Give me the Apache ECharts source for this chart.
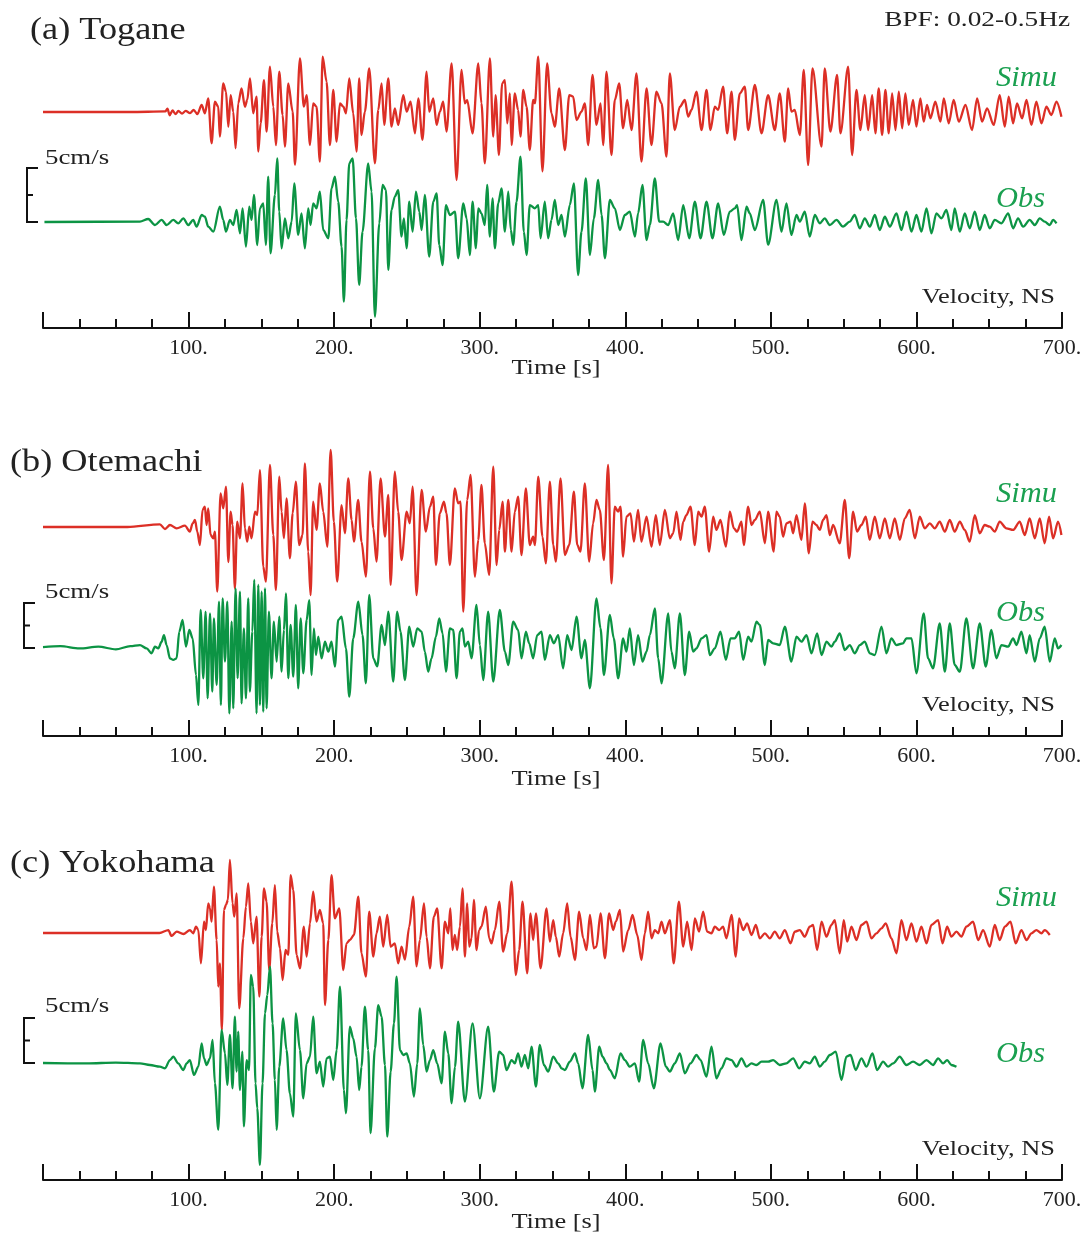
<!DOCTYPE html>
<html>
<head>
<meta charset="utf-8">
<script src="https://cdn.jsdelivr.net/npm/echarts@6/dist/echarts.min.js"></script>
<style>
html, body { margin: 0; padding: 0; background: #fff; }
#main { width: 1085px; height: 1234px; }
</style>
</head>
<body>
<div id="main"></div>
<script>
var toganeSimu = [[0,0],[60,0],[84,0.05],[85.5,0.3],[87,-0.3],[89,0.15],[91,-0.2],[93,0.1],[95.5,-0.15],[98,0.1],[101,-0.1],[103.5,0.2],[106,-0.2],[109,0.65],[111.2,-0.12],[113.5,1.27],[115.8,-2.9],[118.1,0.96],[120.4,0.49],[121.5,-2.28],[123.8,2.65],[125.7,1.88],[127.3,-1.36],[128.9,1.57],[130.7,0.03],[132.3,-3.36],[134.1,0.8],[136.4,2.19],[138.7,0.49],[140.3,1.11],[142.2,3.12],[144.4,-0.12],[146.7,1.42],[147.9,-3.67],[149.5,-1.05],[151.8,2.96],[153.6,-1.82],[155.9,4.2],[158.2,0.49],[160,-3.06],[162.3,3.73],[164.6,-0.28],[166.2,-3.21],[168.5,2.65],[171.5,0.03],[173.1,-4.88],[176.5,4.97],[179.2,0.49],[181.1,1.57],[183.4,-3.06],[185.6,0.8],[187.9,0.49],[190.2,-4.6],[192.1,5.12],[194.8,2.81],[197.1,-3.06],[199.4,2.04],[201.7,-2.75],[204,0.8],[206.3,0.49],[208.1,-0.12],[210.4,3.12],[213.1,-0.12],[215.4,-3.67],[217.2,3.12],[218.8,-2.13],[221.1,0.03],[224.1,4.04],[228,-4.75],[230.3,0.19],[232.6,2.65],[234.4,-1.2],[237.2,3.12],[239.4,-1.36],[241.7,0.34],[244,-1.2],[247.5,1.57],[249.8,0.03],[252.5,0.96],[255.5,-1.98],[257.8,1.27],[260.7,-2.59],[263.5,3.73],[265.3,0.03],[268.1,1.27],[270.4,-1.2],[272.6,0.03],[274.9,0.96],[277.2,-1.82],[280.7,4.5],[284.1,-6.3],[287.5,3.9],[289.8,0.8],[291.4,1.1],[295.1,-1.98],[299,4.5],[301.2,0.8],[303.5,-4.75],[307,4.97],[309.3,-2.28],[310.9,1.57],[313.2,-3.98],[315.4,2.65],[317.3,2.96],[318.9,-1.05],[320.7,1.73],[321.9,-3.06],[324.1,1.73],[326.4,0.19],[328,-2.28],[329.9,2.04],[332.2,0.49],[334.4,-3.52],[336.7,1.11],[337.9,0.8],[340.2,5.12],[343.1,-5.5],[346.3,4.5],[349.3,-0.12],[351.6,-1.36],[354.6,2.19],[358.5,-3.52],[361.5,1.57],[364.2,1.42],[366.5,-0.74],[369.9,0.03],[372.2,0.8],[374.5,-3.06],[377.5,3.43],[380.2,-1.2],[383,0.8],[384.8,-3.06],[387.1,3.73],[390.5,-3.98],[392.8,1.11],[395.8,2.65],[398.5,-1.51],[401.3,1.11],[404.3,-1.67],[407.7,3.58],[411.1,-4.6],[414.6,2.19],[418,-3.06],[421.4,1.88],[424.9,0.8],[428.3,-4.14],[430.6,3.58],[434,-1.67],[437.5,0.49],[440.9,1.11],[443.2,-0.43],[445.5,0.19],[448.9,1.88],[452.4,-1.67],[455.8,2.04],[458.5,-1.67],[461.5,0.49],[463.8,0.19],[467.2,2.35],[470,-1.98],[473,1.88],[475.2,-2.59],[478.7,1.73],[482.1,2.35],[484.4,-1.67],[489,2.5],[493.6,-1.98],[498.1,1.57],[502.7,-1.67],[506.1,1.73],[509.6,-2.75],[511.9,2.19],[514.1,0.03],[516.4,0.19],[519.9,-2.13],[522.6,3.89],[525.6,-4.9],[528.6,4.04],[534.8,-3.21],[537,4.04],[540.9,-1.82],[545.5,3.43],[547.8,-1.98],[553.1,4.2],[555.8,-3.98],[558.8,2.04],[561.5,-1.67],[564.5,1.57],[566.8,-1.67],[569.6,1.57],[571.8,-1.98],[574.1,2.19],[576.4,-2.13],[578.7,2.04],[581,-1.98],[583.3,1.73],[585.6,-1.67],[587.9,1.88],[590.2,-1.51],[592.4,1.73],[594.7,-1.2],[597.7,1.11],[600,-1.36],[602.7,1.27],[605,-0.9],[607.3,0.65],[609.6,-0.59],[613,0.96],[616.5,-0.9],[618.8,1.27],[622.2,-1.05],[625.6,1.11],[629.1,-0.9],[633.7,0.65],[638.2,-1.67],[641.7,1.27],[645.1,-0.9],[648.5,0.34],[653.1,-1.2],[657.2,1.57],[660.7,-1.36],[663.4,1.42],[666.4,-1.05],[669.1,0.8],[672.6,-0.59],[675.6,1.11],[679,-1.2],[682.4,0.96],[685.9,-1.05],[689.3,0.49],[692.7,-0.28],[696.2,0.96],[699.6,-0.43]];

var toganeObs = [[1,0],[66.6,0.03],[72.3,0.28],[76.9,-0.28],[81.5,0.19],[84.9,-0.28],[89.5,0.19],[92.9,-0.12],[96.4,0.34],[99.8,-0.28],[103.2,0.19],[105.5,-0.43],[109,0.65],[111.2,0.49],[113.5,-0.43],[117,-0.9],[121.5,1.42],[123.8,0.19],[125.7,-0.9],[128.4,0.19],[130.7,-0.28],[133,1.11],[135.3,-1.05],[137.1,1.27],[139.4,-2.28],[141.7,1.42],[143.3,0.19],[144.9,2.5],[147.2,-2.13],[149,1.27],[151.3,1.73],[153.1,-2.13],[154.7,4.2],[156.3,-2.9],[159.3,2.5],[160.9,5.9],[162.3,0.96],[163.9,-2.44],[166.2,0.34],[168.5,-1.51],[170.8,0.03],[172.6,3.58],[175.3,-1.2],[177.6,0.8],[179.9,-2.44],[182.2,1.27],[183.8,-0.28],[185.6,1.73],[187.9,1.27],[190.2,2.81],[192.5,-0.74],[196,-1.51],[198.2,3.12],[200.5,4.2],[202.8,1.88],[205.1,-2.28],[206.7,-7.38],[208.5,0.19],[210.4,5.43],[212.7,5.9],[215,0.34],[217.2,-5.83],[219.5,-0.9],[223.4,5.43],[225.7,2.81],[228,-8.77],[231,-0.12],[233.3,3.43],[235.6,2.96],[237.2,-4.44],[239.4,1.11],[241.7,2.35],[244,2.96],[246.3,-1.36],[247.9,0.34],[249.8,-2.44],[251.6,1.88],[253.9,-0.9],[256.2,2.81],[258.5,0.96],[260.1,-0.74],[262.3,2.5],[265.3,-3.21],[268.1,1.88],[270.4,2.65],[272.2,-2.13],[274.5,-4.0],[276.8,1.57],[279.5,0.65],[283,0.96],[285.2,-3.36],[288.7,1.73],[291,0.34],[293.2,-3.06],[295.1,1.88],[297.4,-2.44],[299,1.27],[301.2,0.8],[303.5,-0.28],[305.1,3.43],[307,-1.36],[308.8,2.19],[310.4,-2.44],[312.7,1.73],[315,3.12],[317.3,-0.9],[319.6,2.81],[321.4,-0.74],[323,-2.13],[325.3,1.88],[328,6.05],[330.3,-0.9],[332.2,-3.06],[334.4,1.57],[337.9,1.27],[340.2,1.57],[341.8,-1.51],[344.7,1.88],[347,-1.51],[349.3,0.19],[351.6,2.04],[353.9,-0.28],[356.2,0.65],[358.5,-1.36],[361.9,1.57],[364.7,3.58],[367.6,-4.91],[369.9,-0.9],[372.9,4.04],[375.7,-3.06],[378.4,0.34],[381.4,3.89],[383.7,0.65],[386,-3.36],[389.4,2.04],[392.8,1.27],[396.3,-0.74],[399.7,0.65],[403.1,0.96],[406.6,-1.36],[408.8,0.8],[411.8,3.43],[414.6,-1.67],[416.9,-0.28],[420.3,4.04],[423.3,0.03],[426,0.03],[429.5,-0.28],[432.9,0.8],[436.3,-1.67],[439.8,1.57],[443.9,-1.51],[447.8,1.88],[451.7,-1.51],[455.8,1.88],[459.9,-1.51],[463.8,1.73],[467.7,-1.2],[471.8,0.96],[475.2,1.27],[476.8,1.57],[479.8,-1.67],[483.3,1.42],[485.5,0.8],[489,-0.74],[494.7,2.04],[498.1,-2.1],[503.9,2.04],[507.3,-0.9],[510.7,1.73],[514.1,-1.2],[517.6,0.65],[519.9,0.03],[523.3,0.96],[526.7,-1.36],[530.2,0.65],[533.6,-0.12],[537,0.34],[540.5,-0.28],[545.1,0.19],[549.6,-0.43],[554.2,0.03],[557.6,0.65],[561.1,-0.59],[564.5,0.34],[568,-0.43],[571.4,0.65],[574.8,-0.74],[578.3,0.49],[581.7,-0.43],[586.3,0.8],[589.7,-0.74],[593.1,0.96],[596.6,-0.9],[600,0.65],[603.4,-0.9],[606.9,1.27],[610.3,-1.05],[613.7,0.8],[617.2,0.34],[620.6,1.11],[624,-0.74],[626.3,1.27],[629.8,-0.9],[633.2,0.8],[636.6,-0.59],[640.1,0.96],[643.5,-0.74],[646.9,0.65],[650.4,-0.59],[653.8,0.19],[658.4,-0.12],[663,0.8],[666.4,-0.59],[669.8,0.34],[673.3,-0.43],[677.8,0.19],[681.3,-0.28],[684.7,0.34],[688.1,0.03],[691.6,-0.28],[693.9,0.19],[696.2,-0.12]];

var otemachiSimu = [[0,0],[58,0],[80.3,0.3],[83.8,-0.22],[87.2,0.22],[91.8,-0.15],[97.5,0.15],[100.9,-0.52],[102.8,0.41],[104.4,0.78],[106,-0.52],[107.8,-2.0],[109.6,1.89],[111.2,2.26],[112.4,0.22],[113.5,2.07],[115.1,-0.89],[117,-1.26],[118.1,-0.52],[119.7,-7.19],[122,3.74],[123.8,2.07],[125.7,4.48],[127.3,-3.89],[128.9,1.7],[130.2,0.22],[131.8,-6.81],[133.4,0.59],[135.3,-1.26],[137.1,4.85],[138.7,-0.15],[140.3,-1.63],[141.7,0.04],[143.3,-1.26],[145.6,1.7],[147.2,1.33],[149,6.33],[151.3,-4.41],[153.1,-6.07],[155.9,6.89],[158.2,-0.89],[160,-7.0],[162.3,5.59],[163.9,1.7],[165.5,-1.26],[167.3,3.19],[169.6,-3.48],[171.5,1.52],[173.7,5.04],[176,-2.0],[178.3,-0.89],[179.9,7.07],[182.2,-2.74],[183.8,-7.56],[185.6,2.81],[187.9,-0.33],[190.2,4.85],[192.5,1.7],[195.3,-2.19],[197.6,8.56],[199.8,0.59],[202.1,-6.07],[205.1,2.44],[207.4,-0.7],[209.7,5.41],[212,0.78],[213.6,-1.63],[216.5,3.0],[218.8,-1.63],[221.8,-5.52],[224.6,6.15],[226.9,-0.15],[229.1,-3.85],[231.9,5.41],[234.9,-1.07],[237.2,3.56],[238.8,-6.44],[241.7,6.15],[244,1.7],[246.3,-3.67],[249.8,1.7],[252,0.41],[253.9,4.48],[256.6,-7.56],[260.1,4.11],[263,-0.52],[265.8,2.26],[268.1,3.37],[269.9,-4.22],[272.6,1.52],[275.4,2.81],[277.2,1.52],[279.5,-4.22],[282.9,4.3],[285.2,2.63],[286.8,2.81],[288.7,-9.41],[291.4,3.0],[293.7,5.78],[296.7,-5.52],[299,-1.44],[301.2,4.67],[303.5,-1.81],[306.5,-5.33],[309.3,6.7],[311.6,-4.22],[313.4,-0.33],[315.7,2.81],[317.3,-2.74],[319.6,3.0],[321.9,-2.74],[324.1,1.7],[326.4,3.37],[328.7,-3.11],[331.7,4.3],[334.4,-2.0],[336.7,-1.07],[337.9,-2.0],[340.2,5.59],[343.1,-1.07],[345.4,-4.04],[348.2,5.04],[350.5,-2.0],[352.3,-3.85],[355.5,5.41],[358.5,-3.11],[361.5,-2.0],[364.7,3.93],[367,-2.0],[369.2,-2.74],[372.2,4.85],[375.2,-3.85],[377.9,0.41],[380.2,3.0],[382.5,1.89],[385.3,-3.67],[388.2,6.89],[390.5,-6.26],[392.8,2.26],[395.1,1.7],[396.7,2.26],[398.5,-3.3],[400.8,1.15],[403.6,1.52],[405.9,-1.63],[408.8,1.89],[411.1,-1.63],[414.6,1.15],[418,-2.19],[421,1.33],[423.7,-2.0],[427.2,1.89],[430.6,-1.26],[432.9,-0.7],[435.2,1.7],[437.9,-1.44],[439.8,0.59],[442,1.33],[444.8,2.26],[447.8,-2.0],[450.1,1.7],[452.4,1.15],[454.6,2.26],[457.6,-2.74],[460.4,1.15],[462.6,-0.33],[465.4,0.78],[469.1,-2.19],[471.8,1.7],[474.6,-0.15],[476.8,-0.52],[479.8,0.59],[481.4,-2.0],[484.4,2.26],[486.7,0.22],[489,0.78],[492.4,1.7],[495.9,-1.81],[498.1,1.7],[502,-2.74],[503.8,1.7],[506.1,1.15],[508.4,-1.07],[510.7,0.41],[513.5,0.59],[515.3,-0.7],[517.6,1.33],[521,-1.44],[523.3,2.63],[526.1,-2.93],[528.6,0.59],[531.3,0.22],[533.6,-0.33],[535.9,0.78],[538.2,1.33],[540.5,-0.89],[542.8,0.22],[547.3,-1.81],[550.8,3.0],[553.8,-3.48],[556.5,1.7],[559.2,-0.52],[562.2,0.22],[565.2,1.15],[567.9,-1.44],[571.4,1.15],[574.8,-1.26],[578.3,0.96],[581.7,-1.26],[585.1,0.96],[588.6,-1.44],[592,0.96],[595.4,1.89],[598.9,-1.26],[602.3,1.15],[605.7,-0.15],[609.2,0.41],[612.6,-0.15],[616,0.59],[619.5,-0.52],[622.9,0.78],[626.3,-0.52],[629.8,0.59],[633.2,-0.33],[636.6,-1.63],[640.1,1.33],[643.5,-0.7],[646.9,0.22],[650.4,0.04],[653.8,-0.52],[657.2,0.59],[661.8,-0.15],[666.4,-0.33],[671,0.59],[674.4,-0.89],[677.8,0.96],[681.3,-1.26],[684.7,0.96],[688.1,-1.81],[691.1,1.15],[693.9,-1.26],[697.3,0.59],[699.6,-0.89]];

var otemachiObs = [[0,0.1],[12,0.2],[25,-0.05],[38,0.15],[50,-0.15],[60,0.2],[66.6,0.33],[71.2,-0.04],[74.6,-0.59],[76.9,0.15],[79.2,-0.04],[81.5,0.7],[83.1,1.44],[84.9,0.33],[87.2,-1.15],[89.5,-1.33],[91.8,-1.15],[93.6,1.81],[95.9,3.11],[98.2,0.15],[100.5,2.0],[102.8,1.07],[105.1,-3.0],[106.7,-6.33],[108.3,4.22],[110.1,-3.37],[111.7,4.04],[113.1,-5.59],[114.7,3.85],[116.3,-4.85],[117.4,3.3],[119.3,-4.11],[120.9,5.15],[122.2,-6.33],[123.4,5.52],[125,-1.52],[126.6,5.15],[128,-7.26],[129.6,2.93],[130.7,-6.7],[132.3,6.63],[133.7,-3.37],[135.3,6.26],[136.4,-6.15],[138,2.19],[139.4,-5.59],[141,5.52],[142.1,-4.85],[143.8,1.81],[145.1,7.56],[146.7,-7.26],[147.9,7.0],[149,-6.33],[150.2,6.26],[151.3,-7.07],[152.5,6.63],[153.6,-6.7],[155.2,4.04],[157,-3.37],[158.6,2.93],[160.5,-1.52],[162.3,3.48],[163.9,-2.63],[165.5,2.0],[166.9,6.07],[168.5,-3.37],[170.1,2.56],[171.9,-3.19],[173.7,4.78],[175.3,-4.48],[177,3.3],[178.8,-2.81],[181.1,3.11],[182.9,5.33],[184.5,-3.0],[186.1,2.19],[187.5,-0.78],[189.1,1.26],[191.4,-1.15],[193.7,0.7],[196,-0.41],[198.2,0.7],[200.5,-2.07],[202.8,3.11],[205.1,3.48],[208.1,-0.04],[210.4,-5.41],[213.1,1.07],[216.6,5.15],[219.5,1.44],[221.8,-3.93],[224.1,5.89],[226.9,-1.15],[229.6,-2.04],[232.6,2.56],[234.9,0.33],[237.2,4.04],[240.6,-3.74],[243.3,4.04],[245.6,1.81],[248.6,-3.56],[251.6,2.37],[254.3,0.15],[257.1,2.19],[260.1,1.81],[262.3,-0.41],[264.6,-2.63],[266.9,-1.15],[269.9,1.26],[272.2,3.3],[274.5,1.63],[276.8,-2.63],[279.5,2.19],[281.8,2.0],[284.1,-3.37],[286.4,1.81],[288.2,2.19],[289.8,0.15],[292.1,0.7],[294.4,-1.15],[297.8,4.78],[300.1,0.33],[302.4,-3.56],[305.8,4.04],[309.3,-3.74],[313.8,4.22],[317.3,-0.41],[319.6,-1.89],[323,2.93],[326.4,2.0],[328.7,-1.15],[331.7,1.81],[334,0.52],[336.7,-1.15],[339.5,1.44],[342.5,1.81],[344.7,-1.33],[348.2,1.44],[350.9,0.52],[353.9,1.44],[357.3,-2.26],[360.1,1.44],[363.1,-0.22],[366.5,3.48],[369.9,-1.15],[372.2,0.89],[375.7,-4.48],[380.2,5.52],[383,2.19],[385.3,-3.0],[389.4,3.67],[392.1,1.07],[395.1,-3.37],[398.5,1.07],[400.8,-0.41],[403.1,2.19],[405.9,-1.89],[408.8,1.44],[411.8,-1.52],[414.6,-0.41],[416.9,1.44],[420.3,4.41],[422.6,-1.15],[424.9,-3.93],[429.5,3.85],[431.7,-0.41],[434,-2.26],[437.5,3.85],[440.9,-3.0],[443.9,1.81],[446.6,-0.41],[448.9,-0.04],[452.4,1.07],[455.8,1.44],[458.1,-0.78],[461.5,-0.04],[465.4,1.81],[469.1,-1.33],[472.3,1.07],[475.2,1.07],[478.2,1.81],[481,-1.33],[484.4,1.26],[486.7,0.7],[490.1,2.93],[492.4,2.56],[495.9,-1.89],[498.1,0.89],[501.6,0.52],[506.1,0.33],[509.6,2.37],[514.1,-1.52],[517.6,1.26],[521,0.7],[524.5,1.44],[527.9,-0.59],[531.8,1.63],[534.8,-0.78],[538.2,0.7],[541.6,0.15],[543.9,0.7],[547.3,1.63],[550.8,-0.22],[554.2,0.33],[557.6,-0.59],[561.1,0.33],[564.5,0.7],[568,-0.59],[571.4,-0.78],[576,2.37],[579.4,-0.59],[582.8,1.07],[586.3,0.33],[590.8,0.52],[593.1,1.07],[596.6,1.07],[600,-2.81],[605,3.85],[608,-1.15],[611.4,-2.26],[616,2.74],[619.5,-2.63],[622.9,2.74],[626.3,-1.89],[629.8,-2.63],[634.3,3.3],[638.9,-2.26],[643.5,2.74],[647.6,-2.07],[651.5,2.0],[654.9,-1.15],[658.4,0.33],[663,0.15],[666.4,1.07],[668.7,0.33],[672.1,1.81],[675.6,-0.59],[677.8,1.44],[681.3,-1.52],[684.7,1.07],[688.1,2.37],[691.6,-1.52],[695,1.07],[697.3,-0.04],[699.6,0.33]];

var yokohamaSimu = [[0,0],[80,0],[86.1,0.33],[88.3,-0.33],[91.8,0.15],[96.4,-0.11],[100.9,0.33],[103.2,-0.04],[105.1,0.7],[106.7,0.33],[108.5,-3.37],[110.6,1.26],[111.9,0.33],[113.5,3.3],[114.7,2.74],[115.8,1.26],[117.4,5.15],[119.3,-0.78],[120.4,-5.96],[121.5,-3.37],[122.9,-10.78],[124.3,2.56],[125.7,3.11],[127,3.67],[128.4,8.11],[130.2,3.3],[131.4,1.81],[133,4.41],[134.8,-8.37],[137.6,-0.59],[139.4,2.93],[141,5.52],[142.8,1.26],[144.4,-1.15],[146.7,1.81],[148.6,-7.07],[150.2,-0.41],[151.8,4.96],[153.6,3.48],[155.4,-4.11],[157.5,1.07],[159.3,5.33],[160.9,0.15],[162.8,-1.7],[164.6,-5.22],[166.6,-1.89],[168.5,-2.44],[170.1,6.44],[171.9,4.78],[174.2,-2.44],[176.5,-3.93],[179.2,0.7],[181.1,-2.63],[183.4,1.07],[185.6,4.59],[187.9,1.26],[190.2,2.56],[192.5,1.07],[193.7,-8.0],[196,-0.78],[198.2,6.44],[200.5,1.63],[203.5,2.74],[206.3,-4.11],[208.5,-1.15],[210.8,-0.78],[213.6,-0.22],[216.6,4.04],[218.8,-2.26],[221.8,-4.85],[224.1,2.37],[226.9,-2.63],[229.1,-0.04],[231.4,1.81],[233.7,-1.52],[236.5,2.0],[238.8,-1.52],[241.7,-1.15],[244,-3.37],[246.3,-1.52],[248.6,-2.96],[251.6,0.7],[254.3,4.04],[256.6,-3.7],[258.9,-0.78],[261.7,3.3],[263.5,-0.41],[265.8,-3.93],[268.5,1.81],[270.8,2.74],[273.8,-3.93],[276.1,1.26],[278.4,-0.04],[279.8,2.74],[281.3,-1.89],[282.9,-0.22],[284.5,-1.89],[286.4,0.7],[288.2,4.96],[289.8,-2.63],[291.4,3.3],[292.8,-1.52],[294.4,-0.59],[296,3.67],[297.8,-1.89],[299.6,0.33],[301.2,0.7],[304.2,2.93],[306.5,-0.59],[308.1,-1.15],[310.4,0.33],[313.4,3.48],[316.1,-2.07],[318.9,-0.04],[321.9,5.7],[324.8,-4.67],[327.1,-1.89],[329.4,3.48],[332.6,-4.48],[334.9,2.19],[336.7,-0.78],[338.6,2.19],[341.8,-3.93],[345.9,2.74],[348.2,-0.96],[350.5,1.44],[352.3,-0.41],[354.6,-2.63],[357.3,-0.04],[360.1,3.3],[362.4,-0.41],[365.4,-3.0],[368.3,2.37],[371.1,-0.59],[373.4,-1.89],[375.7,2.0],[378.4,-1.7],[380.2,-1.52],[383,2.19],[386,-2.81],[388.9,2.19],[391.7,0.33],[393.5,1.26],[396.3,2.56],[398.5,-2.07],[402,0.33],[405,2.0],[408.2,-0.22],[411.1,-3.0],[413.4,-0.04],[415.7,2.37],[418,-0.59],[420.3,0.33],[422.6,-0.04],[424.9,1.26],[427.2,-0.04],[430.6,1.44],[433.3,-3.37],[436.8,3.48],[439.8,-1.52],[442.5,1.26],[445.5,-1.89],[447.8,1.63],[450.7,0.15],[453.5,2.37],[456.2,0.15],[459.2,-0.04],[461.5,0.7],[464.5,0.33],[467.2,0.7],[469.5,-0.59],[473,2.0],[475.9,-2.63],[478.2,1.63],[481,0.33],[483.7,1.07],[486.7,-0.22],[489.7,0.89],[492.4,-0.59],[495.9,-0.04],[499.3,-0.59],[502.7,0.15],[506.1,-0.59],[509.6,0.33],[513.5,-1.15],[516.4,0.15],[519.9,0.33],[523.3,-0.41],[526.7,0.7],[529,0.89],[531.8,-1.89],[534.8,1.26],[538.2,-0.41],[541.6,0.89],[543.9,1.44],[547.3,-2.26],[550.1,1.44],[552.4,-0.96],[555.4,0.7],[558.8,-0.78],[562.2,0.89],[565.7,1.26],[569.1,-0.59],[572.5,-0.04],[576,0.52],[578.9,1.07],[582.8,-0.59],[586.3,-2.26],[589.7,1.44],[593.1,-0.78],[596.6,1.07],[600,-0.96],[603.4,0.7],[606.9,-1.15],[610.3,0.89],[614.9,1.44],[617.9,-1.15],[621.1,0.7],[624,-0.41],[627.5,0.15],[630.9,-0.41],[634.3,0.7],[638.9,1.26],[642.4,-0.78],[645.8,0.33],[650.4,-1.52],[653.8,0.89],[657.2,-0.78],[660.7,0.7],[664.6,1.26],[668.2,-1.15],[672.1,0.33],[675.6,-0.78],[679,-0.04],[682.4,0.33],[685.9,-0.04],[688.1,0.33],[691.6,-0.22]];

var yokohamaObs = [[0,0],[30,-0.05],[50,0.05],[66.6,-0.04],[73.5,-0.22],[80.3,-0.41],[83.8,-0.59],[87.2,0.33],[89.5,0.7],[92.9,-0.04],[96.4,-0.78],[98.7,-0.04],[100.9,0.33],[103.7,-1.33],[106.7,-0.41],[109,2.19],[110.6,0.52],[112.4,-0.22],[114.7,0.52],[116.5,2.56],[118.1,-2.26],[120.4,-7.41],[122.7,3.67],[125,1.07],[126.6,-2.44],[128.4,3.11],[130.2,-2.81],[131.8,5.15],[133,-0.96],[134.1,3.48],[135.3,-3.0],[136.9,1.26],[138,-7.04],[139.9,0.33],[141.5,-0.78],[142.8,9.78],[144.4,8.48],[146,-2.26],[147.2,-5.04],[149,-11.33],[150.8,-2.26],[152.5,5.52],[154.1,7.56],[155.9,10.7],[157.7,4.41],[159.3,-1.89],[160.5,-7.44],[162.3,-0.41],[165,4.96],[167.3,1.44],[169.6,-3.37],[171.9,-5.96],[173.7,5.52],[176.5,1.44],[178.8,-3.93],[181.1,-0.04],[183.4,0.7],[185.6,5.15],[187.9,-1.15],[190.2,0.15],[192.5,-2.63],[194.8,0.52],[197.1,0.7],[199.4,-1.89],[201.7,1.44],[204,8.48],[206.7,-3.0],[208.1,-5.59],[210.8,4.04],[213.1,2.74],[215.4,0.7],[217.2,-3.0],[218.8,-0.41],[221.1,6.26],[223.4,1.44],[225,-7.81],[228,1.63],[230.3,6.44],[232.6,5.15],[234.9,-0.22],[236.5,-8.19],[238.8,-0.96],[241.1,4.41],[242.9,9.59],[245.2,1.44],[247.5,0.89],[249.8,1.07],[252,-0.04],[254.8,-3.74],[257.1,-0.04],[258.9,6.07],[261.2,2.0],[263.5,-0.96],[265.8,0.33],[268.1,1.44],[270.8,-0.04],[273.8,-2.26],[276.1,3.48],[278.4,1.07],[280.7,-4.48],[283,-0.41],[285.2,4.59],[289.8,-4.3],[295.1,4.41],[300.1,-3.93],[305.8,4.04],[309.7,-3.19],[313.4,1.26],[316.1,0.89],[318.4,-0.78],[321.9,0.33],[324.1,-0.04],[326.4,1.07],[328.7,-0.41],[331,0.89],[333.3,-0.59],[335.6,1.81],[338.6,-2.63],[341.3,2.0],[344.1,-0.22],[347,-0.96],[350.5,0.7],[353.9,-0.04],[356.2,-0.59],[358.5,-0.78],[361.9,0.15],[365.4,1.07],[367.6,-0.04],[370.6,-2.81],[374.5,3.11],[377.5,-0.78],[379.1,-3.19],[382.1,1.81],[384.4,0.7],[387.1,-0.04],[389.4,-0.78],[392.8,-1.7],[396.7,1.07],[399.7,0.33],[403.1,-0.41],[406.6,-0.04],[409.5,-2.07],[412.3,2.56],[415.7,-0.04],[419.6,-2.81],[424.2,2.19],[427.9,-0.41],[430.6,-0.96],[434,-0.04],[437.5,1.07],[440.9,-1.15],[444.8,-0.04],[448.9,0.89],[451.7,0.33],[455.8,-1.52],[459.2,1.81],[462.6,-1.7],[466.1,-0.59],[469.5,0.52],[473,0.33],[476.4,-0.41],[479.8,0.52],[483.3,-0.41],[486.7,-0.04],[490.1,-0.22],[493.6,0.15],[498.1,0.15],[501.6,0.33],[506.1,-0.22],[510.7,-0.04],[515.3,0.52],[519.4,-0.59],[523.3,0.15],[526.7,-0.04],[530.2,0.7],[533.6,-0.41],[537,0.15],[540.5,0.89],[544.6,1.26],[548.5,-1.89],[551.9,0.7],[554.7,0.89],[558.3,-0.78],[562.2,0.52],[565.7,-0.41],[569.8,1.07],[573,-0.78],[577.1,0.15],[580.5,-0.41],[584,-0.04],[588.5,0.7],[593.1,-0.22],[597.7,0.15],[602.3,-0.22],[606.9,0.33],[611.4,-0.22],[614.9,0.52],[618.3,-0.04],[621.1,0.33],[624,-0.22],[627.5,-0.41]];

var stations = ['(a) Togane', '(b) Otemachi', '(c) Yokohama'];
var timeRange = [0, 700];
var timeStep = 100;
var scaleBar = 5; // cm/s

var RED = '#dc2f26';
var GREEN = '#0c9444';
var TXT_GREEN = '#1aa050';
var INK = '#222';
var SERIF = '"Liberation Serif", "Times New Roman", serif';

// pixel layout of the three panels
var AX_LEFT = 43, AX_RIGHT = 1062;
var panels = [
    {simu: toganeSimu, obs: toganeObs, zs: 112, zo: 222, k: 10.8, axis: 328,
     titleX: 30, titleY: 31, simuY: 78, obsY: 199, velY: 297, timeY: 368, barX: 27, barTextY: 158},
    {simu: otemachiSimu, obs: otemachiObs, zs: 527, zo: 648, k: 9, axis: 736,
     titleX: 10, titleY: 463, simuY: 494, obsY: 613, velY: 705, timeY: 779, barX: 24, barTextY: 592},
    {simu: yokohamaSimu, obs: yokohamaObs, zs: 933, zo: 1063, k: 9, axis: 1180,
     titleX: 10, titleY: 864, simuY: 898, obsY: 1054, velY: 1149, timeY: 1222, barX: 24, barTextY: 1006}
];

var grids = [], xAxes = [], yAxes = [], series = [], graphics = [];

// the figure's lettering is a widened Times, so stretch the text horizontally
function label(text, x, y, size, color, align, stretch, italic) {
    return {
        type: 'text', silent: true, x: x, y: y, scaleX: stretch || 1,
        style: {
            text: text, x: 0, y: 0,
            font: (italic ? 'italic ' : '') + size + 'px ' + SERIF,
            fill: color, textAlign: align, textVerticalAlign: 'middle',
            align: align, verticalAlign: 'middle'
        }
    };
}

panels.forEach(function (p, i) {
    var pad = 110;
    // simu grid (no visible axis)
    grids.push({left: AX_LEFT, width: AX_RIGHT - AX_LEFT, top: p.zs - pad, height: 2 * pad});
    // obs grid, its bottom is the time axis
    grids.push({left: AX_LEFT, width: AX_RIGHT - AX_LEFT, top: p.zo - pad, height: p.axis - p.zo + pad});

    xAxes.push({gridIndex: 2 * i, type: 'value', min: timeRange[0], max: timeRange[1], show: false});
    xAxes.push({
        gridIndex: 2 * i + 1, type: 'value', min: timeRange[0], max: timeRange[1], interval: timeStep,
        axisLine: {onZero: false, lineStyle: {color: '#111', width: 2}},
        axisTick: {inside: true, length: 16, lineStyle: {color: '#111', width: 2}},
        minorTick: {show: true, splitNumber: 4, length: 9, lineStyle: {color: '#111', width: 2}},
        splitLine: {show: false},
        minorSplitLine: {show: false},
        axisLabel: {
            color: INK, fontSize: 22, fontFamily: SERIF, margin: 9,
            formatter: function (v) { return v === 0 ? '' : v + '.'; }
        }
    });

    yAxes.push({gridIndex: 2 * i, type: 'value', show: false, min: -pad / p.k, max: pad / p.k});
    yAxes.push({gridIndex: 2 * i + 1, type: 'value', show: false, min: -(p.axis - p.zo) / p.k, max: pad / p.k});

    series.push({
        name: 'Simu', type: 'line', xAxisIndex: 2 * i, yAxisIndex: 2 * i, data: p.simu,
        showSymbol: false, clip: false, smooth: 0.3, smoothMonotone: 'x',
        lineStyle: {color: RED, width: 2.3}, silent: true
    });
    series.push({
        name: 'Obs', type: 'line', xAxisIndex: 2 * i + 1, yAxisIndex: 2 * i + 1, data: p.obs,
        showSymbol: false, clip: false, smooth: 0.3, smoothMonotone: 'x',
        lineStyle: {color: GREEN, width: 2.3}, silent: true
    });

    // texts
    graphics.push(label(stations[i], p.titleX, p.titleY, 31, INK, 'left', 1.17));
    graphics.push(label('Simu', 1057, p.simuY, 29, TXT_GREEN, 'right', 1.05, true));
    graphics.push(label('Obs', 1045, p.obsY, 29, TXT_GREEN, 'right', 1.05, true));
    graphics.push(label('Velocity, NS', 1055, p.velY, 22, INK, 'right', 1.2));
    graphics.push(label('Time [s]', 556, p.timeY, 22, INK, 'center', 1.2));
    graphics.push(label(scaleBar + 'cm/s', 45, p.barTextY, 21, INK, 'left', 1.28));

    // 5 cm/s scale bracket
    var top = p.zo - scaleBar * p.k, bot = p.zo, mid = (top + bot) / 2, x = p.barX;
    graphics.push({type: 'polyline', silent: true,
        shape: {points: [[x + 11, top], [x, top], [x, bot], [x + 11, bot]]},
        style: {stroke: '#111', lineWidth: 2, fill: null}});
    graphics.push({type: 'line', silent: true,
        shape: {x1: x, y1: mid, x2: x + 6, y2: mid},
        style: {stroke: '#111', lineWidth: 2}});
});

graphics.push(label('BPF: 0.02-0.5Hz', 1070, 20, 21, INK, 'right', 1.3));

var chart = echarts.init(document.getElementById('main'), null, {renderer: 'canvas'});
chart.setOption({
    animation: false,
    backgroundColor: '#fff',
    grid: grids,
    xAxis: xAxes,
    yAxis: yAxes,
    series: series,
    graphic: graphics
});
</script>
</body>
</html>
